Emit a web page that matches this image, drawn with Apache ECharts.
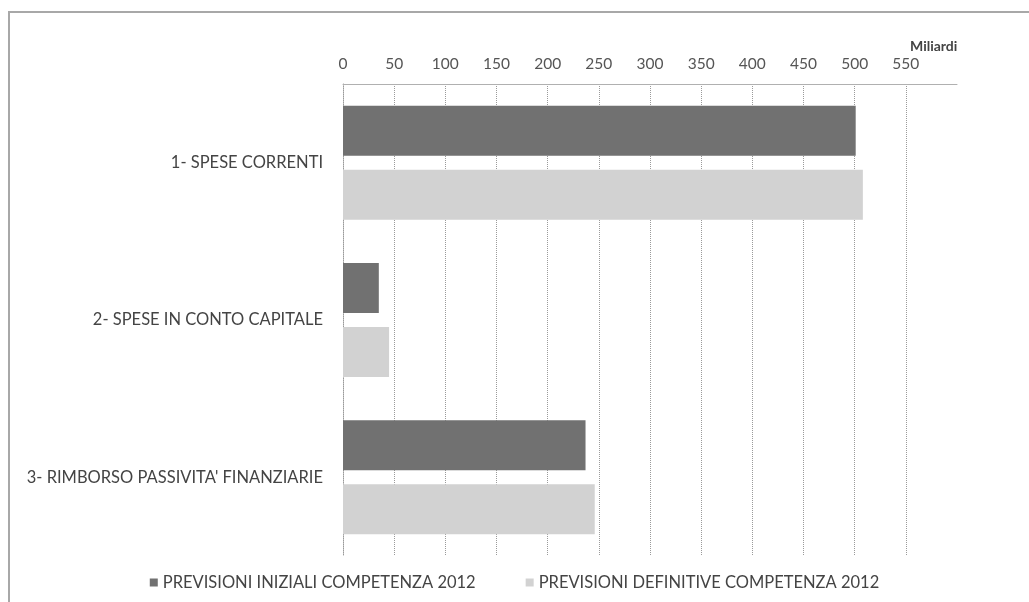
<!DOCTYPE html>
<html>
<head>
<meta charset="utf-8">
<script src="https://cdn.jsdelivr.net/npm/echarts@6/dist/echarts.min.js"></script>
<style>
  html, body { margin: 0; padding: 0; background: #fff; }
  #chart { width: 1029px; height: 602px; }
</style>
</head>
<body>
<div id="chart"></div>
<script>
// categories (top to bottom)
var categories = ['1- SPESE CORRENTI', '2- SPESE IN CONTO CAPITALE', "3- RIMBORSO PASSIVITA' FINANZIARIE"];
var seriesNames = ['PREVISIONI INIZIALI COMPETENZA 2012', 'PREVISIONI DEFINITIVE COMPETENZA 2012'];
// values in miliardi
var iniziali = [501, 35, 237];
var definitive = [508, 45, 246];

var font = 'Lato, "Open Sans", sans-serif';

var chart = echarts.init(document.getElementById('chart'));
chart.setOption({
  animation: false,
  backgroundColor: '#fff',
  graphic: [{
    type: 'rect',
    shape: { x: 9, y: 12, width: 1100, height: 700 },
    style: { fill: 'none', stroke: '#a8a8a8', lineWidth: 2 },
    silent: true
  }],
  title: {
    text: 'Miliardi',
    left: 905,
    top: 34,
    textStyle: { fontFamily: font, fontSize: 14, fontWeight: 'bold', color: '#444' }
  },
  legend: {
    bottom: 6,
    left: 'center',
    itemWidth: 8,
    itemHeight: 8,
    itemGap: 50,
    icon: 'rect',
    textStyle: { fontFamily: font, fontSize: 16.5, color: '#444' },
    data: seriesNames
  },
  grid: { left: 343, right: 72, top: 84, bottom: 46 },
  xAxis: {
    type: 'value',
    position: 'top',
    min: 0,
    max: 600,
    interval: 50,
    axisLine: { show: true, lineStyle: { color: '#b0b0b0', width: 1 } },
    axisTick: { show: false },
    axisLabel: {
      showMaxLabel: false,
      margin: 12,
      fontFamily: font, fontSize: 15.5, color: '#555'
    },
    splitLine: { show: true, showMaxLine: false, lineStyle: { color: '#9a9a9a', type: 'dotted' } }
  },
  yAxis: {
    type: 'category',
    inverse: true,
    data: categories,
    axisLine: { show: true, lineStyle: { color: '#9a9a9a', type: 'dotted' } },
    axisTick: { show: false },
    axisLabel: { margin: 20, fontFamily: font, fontSize: 16.5, color: '#444' }
  },
  series: [
    {
      name: seriesNames[0],
      type: 'bar',
      data: iniziali,
      barWidth: 50,
      barGap: '28%',
      itemStyle: { color: '#717171' }
    },
    {
      name: seriesNames[1],
      type: 'bar',
      data: definitive,
      barWidth: 50,
      itemStyle: { color: '#d2d2d2' }
    }
  ]
});
</script>
</body>
</html>
